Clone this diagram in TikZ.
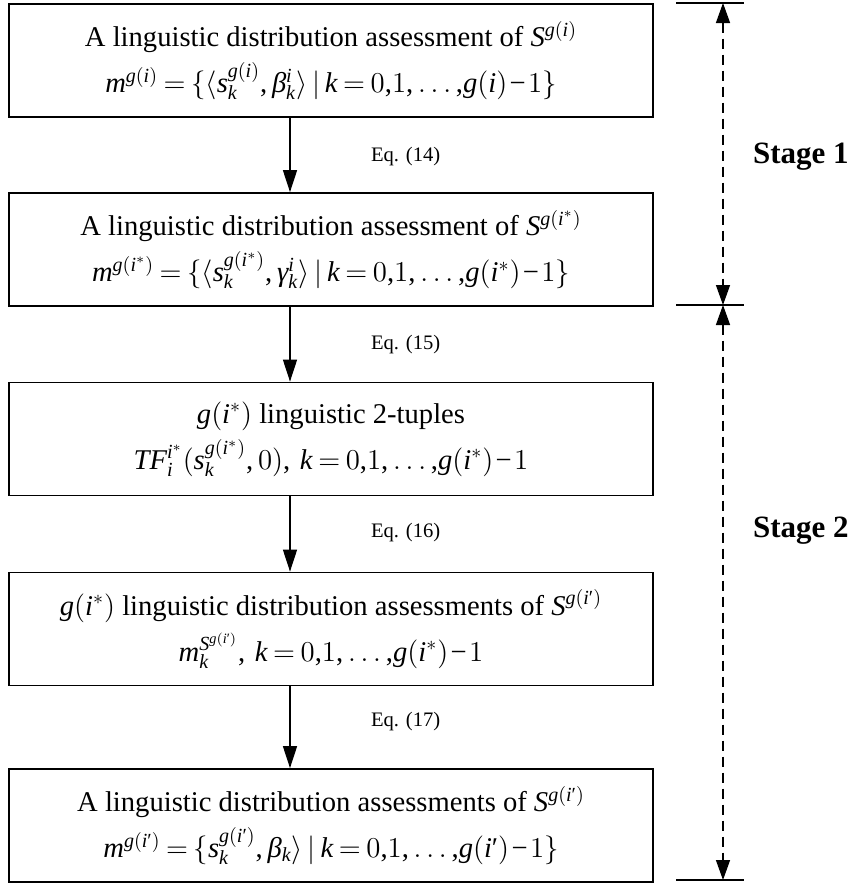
\documentclass[tikz,border=0pt]{standalone}
\usepackage{fontspec}
\setmainfont{Liberation Serif}
\DeclareSymbolFont{tuit}{TU}{\rmdefault}{m}{it}
\DeclareSymbolFont{turm}{TU}{\rmdefault}{m}{n}
\newcount\lettercnt
\lettercnt=`a
\loop \Umathcode\lettercnt="7 \symtuit \lettercnt \ifnum\lettercnt<`z \advance\lettercnt 1 \repeat
\lettercnt=`A
\loop \Umathcode\lettercnt="7 \symtuit \lettercnt \ifnum\lettercnt<`Z \advance\lettercnt 1 \repeat
\lettercnt=`0
\loop \Umathcode\lettercnt="0 \symturm \lettercnt \ifnum\lettercnt<`9 \advance\lettercnt 1 \repeat
\Umathcode`(="4 \symturm `(
\Umathcode`)="5 \symturm `)
\Umathcode`,="6 \symturm `,
\Umathcode`=="3 \symturm `=
\Umathcode`-="2 \symturm "2212
\Umathcode`'="0 \symturm "2032
\AtBeginDocument{%
  \Umathchardef\beta="7 \symtuit "03B2
  \Umathchardef\gamma="7 \symtuit "03B3
}
\usetikzlibrary{arrows.meta}
\begin{document}
\medmuskip=1.5mu
\thickmuskip=3.5mu
\begin{tikzpicture}[x=0.5pt,y=-0.5pt,
  box/.style={draw,line width=0.9pt,minimum width=322pt,minimum height=56.5pt,inner sep=0pt,
    align=center,font=\fontsize{14.3}{23}\selectfont},
  eqlab/.style={anchor=west,font=\fontsize{10.3}{12}\selectfont},
  stagelab/.style={anchor=west,font=\fontsize{15.5}{18}\selectfont\bfseries},
  flow/.style={line width=0.7pt,-{Triangle[length=11pt,width=7pt]}},
  span/.style={line width=0.7pt,dash pattern=on 5pt off 3pt,{Triangle[length=10pt,width=7pt]}-{Triangle[length=10pt,width=7pt]}},
  tick/.style={line width=0.7pt}]
\useasboundingbox (0,0) rectangle (863,885);
\node[box] (b1) at (331,60.5) {A linguistic distribution assessment of $S^{g(i)}$\\
  $m^{g(i)}=\{\langle s_k^{g(i)},\beta_k^{i}\rangle\,|\,k=0{,}1{,}\ldots{,}g(i)-1\}$};
\node[box] (b2) at (331,249.5) {A linguistic distribution assessment of $S^{g(i^*)}$\\
  $m^{g(i^*)}=\{\langle s_k^{g(i^*)},\gamma_k^{i}\rangle\,|\,k=0{,}1{,}\ldots{,}g(i^*)-1\}$};
\node[box] (b3) at (331,439) {$g(i^*)$ linguistic 2-tuples\\
  $TF_i^{i^*}(s_k^{g(i^*)},0),\,k=0{,}1{,}\ldots{,}g(i^*)-1$};
\node[box] (b4) at (331,629) {$g(i^*)$ linguistic distribution assessments of $S^{g(i')}$\\
  $m_k^{S^{g(i')}},\,k=0{,}1{,}\ldots{,}g(i^*)-1$};
\node[box] (b5) at (331,825.5) {A linguistic distribution assessments of $S^{g(i')}$\\
  $m^{g(i')}=\{s_k^{g(i')},\beta_k\rangle\,|\,k=0{,}1{,}\ldots{,}g(i')-1\}$};
\coordinate (ax) at (290,0);
\draw[flow] (b1.south -| ax) -- (b2.north -| ax);
\draw[flow] (b2.south -| ax) -- (b3.north -| ax);
\draw[flow] (b3.south -| ax) -- (b4.north -| ax);
\draw[flow] (b4.south -| ax) -- (b5.north -| ax);
\node[eqlab] (e14) at (364,157) {Eq. (14)};
\node[eqlab] (e15) at (364,345) {Eq. (15)};
\node[eqlab] (e16) at (364,533) {Eq. (16)};
\node[eqlab] (e17) at (364,722) {Eq. (17)};
\coordinate (t1) at (723,3);
\coordinate (t2) at (723,305);
\coordinate (t3) at (723,880);
\coordinate (t1a) at (676,3); \coordinate (t1b) at (744,3);
\coordinate (t2a) at (676,305); \coordinate (t2b) at (744,305);
\coordinate (t3a) at (676,880); \coordinate (t3b) at (744,880);
\draw[tick] (t1a) -- (t1b);
\draw[tick] (t2a) -- (t2b);
\draw[tick] (t3a) -- (t3b);
\draw[span] (t1) -- (t2);
\draw[span] (t2) -- (t3);
\node[stagelab] (s1) at (746,157) {Stage 1};
\node[stagelab] (s2) at (746,531) {Stage 2};
\end{tikzpicture}
\end{document}
